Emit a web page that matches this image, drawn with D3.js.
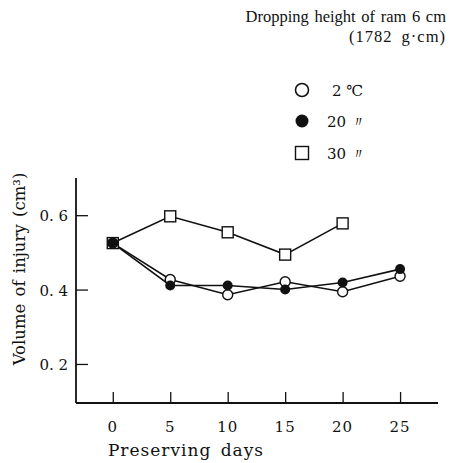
<!DOCTYPE html>
<html>
<head>
<meta charset="utf-8">
<script src="https://cdn.jsdelivr.net/npm/d3@7"></script>
<style>
  body { margin: 0; background: #fff; }
  text { font-family: "DejaVu Serif", "Liberation Serif", serif; fill: #111; }
</style>
</head>
<body>
<div class="chartContainer"></div>
<script>
var days     = [0, 5, 10, 15, 20, 25];
var temp2    = [0.525, 0.427, 0.386, 0.421, 0.394, 0.436];
var temp20   = [0.525, 0.411, 0.411, 0.400, 0.419, 0.455];
var temp30   = [0.525, 0.597, 0.554, 0.494, 0.578];
var yTicks   = [0.2, 0.4, 0.6];
var legendLabels = ["2 \u2103", "20 \u3003", "30 \u3003"];

var svg = d3.select(".chartContainer")
    .append("svg")
    .attr("width", 455)
    .attr("height", 463);

var x = d3.scaleLinear().domain([-3.2, 28.3]).range([76, 438]);
var y = d3.scaleLinear().domain([0.095, 0.70]).range([403, 178]);

// axes: ticks point inward
svg.append("g")
    .attr("transform", "translate(0,403)")
    .call(d3.axisTop(x).tickValues(days).tickSize(11).tickFormat(""))
    .call(function (g) { g.select(".domain").remove(); })
    .selectAll("line").attr("stroke", "#111").attr("stroke-width", 1.3);

svg.append("g")
    .attr("transform", "translate(76,0)")
    .call(d3.axisRight(y).tickValues(yTicks).tickSize(12).tickFormat(""))
    .call(function (g) { g.select(".domain").remove(); })
    .selectAll("line").attr("stroke", "#111").attr("stroke-width", 1.3);

svg.append("line")
    .attr("x1", 76).attr("x2", 438).attr("y1", 403).attr("y2", 403)
    .attr("stroke", "#111").attr("stroke-width", 1.8);
svg.append("line")
    .attr("x1", 76).attr("x2", 76).attr("y1", 178).attr("y2", 403)
    .attr("stroke", "#111").attr("stroke-width", 1.8);

// tick labels
svg.selectAll(".xlab")
    .data(days)
    .enter()
    .append("text")
    .attr("x", function (d) { return x(d); })
    .attr("y", 432)
    .attr("text-anchor", "middle")
    .style("font-size", "15px")
    .style("letter-spacing", "1px")
    .text(function (d) { return d; });

svg.selectAll(".ylab")
    .data(yTicks)
    .enter()
    .append("text")
    .attr("x", 68)
    .attr("y", function (d) { return y(d) + 6; })
    .attr("text-anchor", "end")
    .style("font-size", "15px")
    .text(function (d) { return d3.format(".1f")(d).replace(".", ". "); });

// axis titles
svg.append("text")
    .attr("x", 186).attr("y", 456)
    .attr("text-anchor", "middle")
    .style("font-size", "17px")
    .style("letter-spacing", "1px")
    .style("word-spacing", "3px")
    .text("Preserving days");

svg.append("text")
    .attr("transform", "translate(25,269) rotate(-90)")
    .attr("text-anchor", "middle")
    .style("font-size", "16.5px")
    .style("word-spacing", "2px")
    .text("Volume of injury (cm\u00b3)");

// title
svg.append("text")
    .attr("x", 446).attr("y", 22)
    .attr("text-anchor", "end")
    .style("font-family", "'Liberation Serif', serif")
    .style("font-size", "16.5px")
    .style("word-spacing", "1.5px")
    .text("Dropping height of ram 6 cm");
svg.append("text")
    .attr("x", 446).attr("y", 42)
    .attr("text-anchor", "end")
    .style("font-family", "'Liberation Serif', serif")
    .style("font-size", "16.5px")
    .style("letter-spacing", "1px")
    .style("word-spacing", "4px")
    .text("(1782 g\u00b7cm)");

// lines
var line = d3.line()
    .x(function (d, i) { return x(days[i]); })
    .y(function (d) { return y(d); });

[temp30, temp20, temp2].forEach(function (s) {
    svg.append("path")
        .attr("d", line(s))
        .attr("fill", "none")
        .attr("stroke", "#111")
        .attr("stroke-width", 1.6);
});

// markers
svg.selectAll(".sq")
    .data(temp30)
    .enter()
    .append("rect")
    .attr("x", function (d, i) { return x(days[i]) - 5.5; })
    .attr("y", function (d) { return y(d) - 5.5; })
    .attr("width", 11).attr("height", 11)
    .attr("fill", "#fff").attr("stroke", "#111").attr("stroke-width", 1.4);

svg.selectAll(".open")
    .data(temp2)
    .enter()
    .append("circle")
    .attr("cx", function (d, i) { return x(days[i]); })
    .attr("cy", function (d) { return y(d); })
    .attr("r", 5)
    .attr("fill", "#fff").attr("stroke", "#111").attr("stroke-width", 1.4);

svg.selectAll(".filled")
    .data(temp20)
    .enter()
    .append("circle")
    .attr("cx", function (d, i) { return x(days[i]); })
    .attr("cy", function (d) { return y(d); })
    .attr("r", 5)
    .attr("fill", "#111");

// legend
var legendY = [90, 121, 153];
var legend = svg.selectAll(".leg")
    .data(legendLabels)
    .enter()
    .append("g")
    .attr("transform", function (d, i) { return "translate(302," + legendY[i] + ")"; });

legend.each(function (d, i) {
    var g = d3.select(this);
    if (i === 0) {
        g.append("circle").attr("r", 6.5).attr("fill", "#fff").attr("stroke", "#111").attr("stroke-width", 1.6);
    } else if (i === 1) {
        g.append("circle").attr("r", 6.5).attr("fill", "#111");
    } else {
        g.append("rect").attr("x", -6.5).attr("y", -6.5).attr("width", 13).attr("height", 13)
            .attr("fill", "#fff").attr("stroke", "#111").attr("stroke-width", 1.4);
    }
    g.append("text")
        .attr("x", i === 0 ? 30 : 25)
        .attr("y", 6)
        .style("font-size", "15px")
        .text(d);
});
</script>
</body>
</html>
